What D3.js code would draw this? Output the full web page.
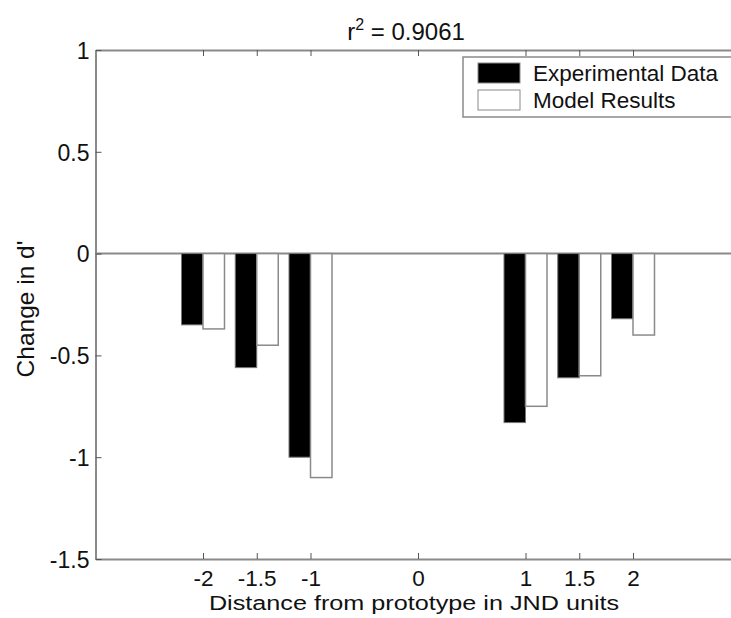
<!DOCTYPE html>
<html>
<head>
<meta charset="utf-8">
<script src="https://cdn.jsdelivr.net/npm/d3@7"></script>
<style>
  html, body { margin: 0; background: #fff; overflow: hidden; }
  text { font-family: "Liberation Sans", Arial, sans-serif; fill: #111; }
</style>
</head>
<body>
<div id="chart"></div>
<script>
// distance from prototype (JND units) and change in d'
const distances = [-2, -1.5, -1, 1, 1.5, 2];
const experimental = [-0.35, -0.56, -1.0, -0.83, -0.61, -0.32];
const model = [-0.37, -0.45, -1.1, -0.75, -0.60, -0.40];
const xTicks = [-2, -1.5, -1, 0, 1, 1.5, 2];
const yTicks = [-1.5, -1, -0.5, 0, 0.5, 1];
const seriesNames = ["Experimental Data", "Model Results"];

const W = 731, H = 618;
const plot = { left: 95.5, right: 740.5, top: 50, bottom: 559 };
const barW = 0.2;
const axisColor = "#8a8a8a";

const svg = d3.select("#chart").append("svg")
  .attr("width", W)
  .attr("height", H)
  .style("display", "block");

const x = d3.scaleLinear().domain([-3, 3]).range([plot.left, plot.right]);
const y = d3.scaleLinear().domain([-1.5, 1]).range([plot.bottom, plot.top]);

// zero line
svg.append("line")
  .attr("x1", plot.left).attr("x2", plot.right)
  .attr("y1", y(0)).attr("y2", y(0))
  .attr("stroke", axisColor)
  .attr("stroke-width", 2);

// bars
svg.selectAll("rect.exp").data(distances)
  .enter().append("rect")
  .attr("class", "exp")
  .attr("x", d => x(d - barW))
  .attr("width", d => x(d) - x(d - barW))
  .attr("y", y(0))
  .attr("height", (d, i) => y(experimental[i]) - y(0))
  .attr("fill", "#000")
  .attr("stroke", "#777")
  .attr("stroke-width", 1);

svg.selectAll("rect.model").data(distances)
  .enter().append("rect")
  .attr("class", "model")
  .attr("x", d => x(d))
  .attr("width", d => x(d + barW) - x(d))
  .attr("y", y(0))
  .attr("height", (d, i) => y(model[i]) - y(0))
  .attr("fill", "#fff")
  .attr("stroke", "#8a8a8a")
  .attr("stroke-width", 1.5);

// axes
const xAxis = d3.axisBottom(x).tickValues(xTicks).tickSizeInner(-6).tickSizeOuter(0)
  .tickFormat(d => String(d));
const xTop = d3.axisTop(x).tickValues(xTicks).tickSizeInner(-6).tickSizeOuter(0)
  .tickFormat("");
const yAxis = d3.axisLeft(y).tickValues(yTicks).tickSizeInner(-6).tickSizeOuter(0)
  .tickFormat(d => String(d));

const gx = svg.append("g").attr("transform", `translate(0,${plot.bottom})`).call(xAxis);
const gt = svg.append("g").attr("transform", `translate(0,${plot.top})`).call(xTop);
const gy = svg.append("g").attr("transform", `translate(${plot.left},0)`).call(yAxis);

[gx, gt, gy].forEach(g => {
  g.select(".domain").attr("stroke", axisColor).attr("stroke-width", 2);
  g.selectAll(".tick line").attr("stroke", "#555").attr("stroke-width", 1);
});

gx.selectAll(".tick text")
  .attr("y", 27).attr("dy", null)
  .attr("font-size", 22.5).attr("fill", "#111");
gy.selectAll(".tick text")
  .attr("x", -6).attr("dy", "0.36em")
  .attr("font-size", 23).attr("fill", "#111");

// title
const title = svg.append("text")
  .attr("x", 406)
  .attr("y", 40)
  .attr("text-anchor", "middle")
  .attr("font-size", 24);
title.append("tspan").text("r");
title.append("tspan").attr("font-size", 16).attr("dy", -10).text("2");
title.append("tspan").attr("dy", 10).text(" = 0.9061");

// axis labels
svg.append("text")
  .attr("transform", "translate(414,610) scale(1.2,1)")
  .attr("text-anchor", "middle")
  .attr("font-size", 21)
  .text("Distance from prototype in JND units");

svg.append("text")
  .attr("transform", `translate(34,309) rotate(-90)`)
  .attr("text-anchor", "middle")
  .attr("font-size", 24.5)
  .text("Change in d'");

// legend
const legend = svg.append("g").attr("transform", "translate(463,57)");
legend.append("rect")
  .attr("width", 300).attr("height", 60)
  .attr("fill", "#fff")
  .attr("stroke", axisColor).attr("stroke-width", 1.5);

seriesNames.forEach((name, i) => {
  const row = legend.append("g").attr("transform", `translate(15,${6 + i * 27})`);
  row.append("rect")
    .attr("width", 42).attr("height", 20)
    .attr("fill", i === 0 ? "#000" : "#fff")
    .attr("stroke", "#8a8a8a").attr("stroke-width", 1);
  row.append("text")
    .attr("x", 55).attr("y", 18)
    .attr("font-size", 22.5)
    .text(name);
});
</script>
</body>
</html>
